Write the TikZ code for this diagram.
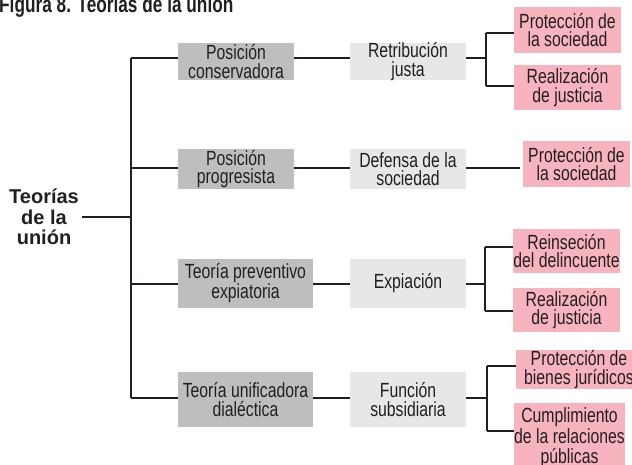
\documentclass[tikz,border=0pt]{standalone}
\usepackage{fontspec}
\setmainfont{Liberation Sans}
\newfontfamily\condfont{Liberation Sans}[FakeStretch=0.77]
\newfontfamily\condbold{Liberation Sans Bold}[FakeStretch=0.75]
\definecolor{ink}{HTML}{231F20}
\definecolor{dkgray}{HTML}{BCBEC0}
\definecolor{ltgray}{HTML}{E6E7E8}
\definecolor{pinkb}{HTML}{F7B4BE}
\begin{document}
\begin{tikzpicture}[x=1pt,y=-1pt,
 box/.style={inner sep=0pt, align=center, text=ink, font=\condfont\fontsize{20.5}{18.5}\selectfont},
 dk/.style={box, fill=dkgray},
 lt/.style={box, fill=ltgray},
 pk/.style={box, fill=pinkb},
 conn/.style={draw=ink, line width=1.2pt}]
\useasboundingbox (0,0) rectangle (632,465);
\node[anchor=base west, text=ink, font=\condbold\fontsize{23}{25}\selectfont, inner sep=0pt] (title) at (-1,12.5) {Figura 8. Teorías de la unión};
\node[inner sep=0pt, align=center, text=ink, font=\bfseries\fontsize{20}{20.5}\selectfont] (root) at (44,217) {Teorías\\de la\\unión};
% gray boxes
\node[dk, minimum width=116pt, minimum height=37pt] (g1) at (236,61.5) {Posición\\conservadora};
\node[dk, minimum width=116pt, minimum height=40pt] (g2) at (236,169) {Posición\\progresista};
\node[dk, minimum width=135pt, minimum height=49pt] (g3) at (245.5,283.5) {Teoría preventivo\\expiatoria};
\node[dk, minimum width=135pt, minimum height=55pt] (g4) at (245.5,399.5) {Teoría unificadora\\dialéctica};
\node[lt, minimum width=116pt, minimum height=37pt] (l1) at (408,61.5) {Retribución\\justa};
\node[lt, minimum width=116pt, minimum height=40pt] (l2) at (408,169) {Defensa de la\\sociedad};
\node[lt, minimum width=116pt, minimum height=49pt] (l3) at (408,283.5) {Expiación};
\node[lt, minimum width=116pt, minimum height=55pt] (l4) at (408,399.5) {Función\\subsidiaria};
% pink boxes
\node[pk, minimum width=107pt, minimum height=46pt] (p1a) at (567.5,30) {Protección de\\la sociedad};
\node[pk, minimum width=107pt, minimum height=45pt] (p1b) at (567.5,87.5) {Realización\\de justicia};
\node[pk, minimum width=107pt, minimum height=46pt] (p2) at (576.5,164) {Protección de\\la sociedad};
\node[pk, minimum width=107pt, minimum height=44pt] (p3a) at (566.5,251) {Reinseción\\del delincuente};
\node[pk, minimum width=107pt, minimum height=44pt] (p3b) at (566.5,310) {Realización\\de justicia};
\node[pk, minimum width=126pt, minimum height=39pt] (p4a) at (579,369.5) {Protección de\\bienes jurídicos};
\node[pk, minimum width=107pt, minimum height=70pt, font=\condfont\fontsize{20.5}{20.5}\selectfont] (p4b) at (569.5,438) {Cumplimiento\\de la relaciones\\públicas};
% trunk
\coordinate (b1) at (131,58);
\coordinate (b2) at (131,168);
\coordinate (b3) at (131,284);
\coordinate (b4) at (131,398);
\draw[conn] (b1) -- (b4);
\draw[conn] ([xshift=3pt]root.east) -- (root.east -| b1);
\draw[conn] (b1) -- (b1 -| g1.west);
\draw[conn] (b2) -- (b2 -| g2.west);
\draw[conn] (b3) -- (b3 -| g3.west);
\draw[conn] (b4) -- (b4 -| g4.west);
\draw[conn] (b1 -| g1.east) -- (b1 -| l1.west);
\draw[conn] (b2 -| g2.east) -- (b2 -| l2.west);
\draw[conn] (b3 -| g3.east) -- (b3 -| l3.west);
\draw[conn] (b4 -| g4.east) -- (b4 -| l4.west);
% forks
\coordinate (f1a) at (486,33);
\coordinate (f1b) at (486,86);
\draw[conn] (b1 -| l1.east) -- (b1 -| f1a);
\draw[conn] (f1a) -- (f1b);
\draw[conn] (f1a) -- (f1a -| p1a.west);
\draw[conn] (f1b) -- (f1b -| p1b.west);
\coordinate (e2) at (520,168);
\draw[conn] (b2 -| l2.east) -- (e2);
\coordinate (f3a) at (485,247);
\coordinate (f3b) at (485,311);
\draw[conn] (b3 -| l3.east) -- (b3 -| f3a);
\draw[conn] (f3a) -- (f3b);
\draw[conn] (f3a) -- (f3a -| p3a.west);
\draw[conn] (f3b) -- (f3b -| p3b.west);
\coordinate (f4a) at (487,366);
\coordinate (f4b) at (487,431);
\draw[conn] (b4 -| l4.east) -- (b4 -| f4a);
\draw[conn] (f4a) -- (f4b);
\draw[conn] (f4a) -- (f4a -| p4a.west);
\draw[conn] (f4b) -- (f4b -| p4b.west);
\end{tikzpicture}
\end{document}
